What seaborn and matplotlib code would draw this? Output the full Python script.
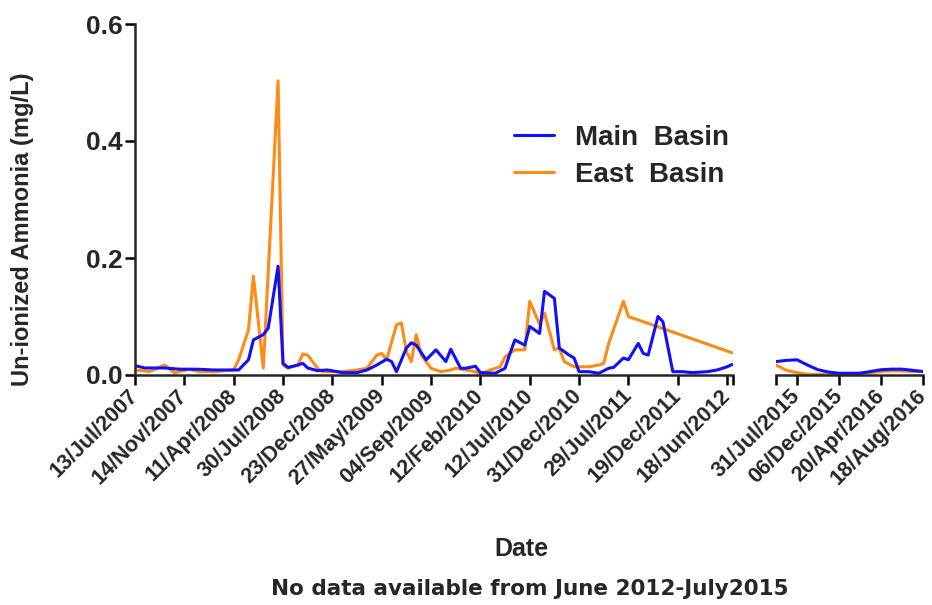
import matplotlib
matplotlib.use("Agg")
import matplotlib.pyplot as plt
import pandas as pd
import seaborn as sns

# Sample index (position along the sampling sequence) and un-ionized ammonia, 2007-2012
main_idx = [0, 2, 6, 9, 13, 16, 21, 23, 24, 26, 27, 29, 30, 31, 33, 34, 35, 37, 39, 41,
            42, 45, 47, 49, 51, 52, 53, 55, 56, 57, 59, 61, 63, 64, 66, 67, 69, 70, 73, 75,
            76, 77, 79, 80, 82, 83, 85, 86, 88, 89, 90, 92, 94, 96, 97, 99, 100, 102, 103, 104,
            106, 107, 109, 111, 113, 116, 118, 120, 121]
main_val = [0.016, 0.012, 0.012, 0.010, 0.0098, 0.0086, 0.0086, 0.026, 0.060, 0.069, 0.080, 0.186,
            0.020, 0.013, 0.017, 0.020, 0.012, 0.0074, 0.0086, 0.0057, 0.004, 0.004, 0.0086, 0.017,
            0.027, 0.023, 0.0057, 0.046, 0.055, 0.051, 0.026, 0.043, 0.023, 0.044, 0.0115, 0.0115,
            0.015, 0.004, 0.003, 0.0115, 0.037, 0.060, 0.051, 0.083, 0.071, 0.143, 0.131, 0.046,
            0.034, 0.029, 0.0057, 0.0057, 0.003, 0.0115, 0.013, 0.029, 0.026, 0.054, 0.037, 0.034,
            0.100, 0.091, 0.0057, 0.0057, 0.004, 0.0057, 0.0086, 0.014, 0.018]

east_idx = [0, 3, 6, 8, 11, 13, 16, 20, 21, 23, 24, 26, 29, 30, 31, 33, 34, 35, 37, 38,
            42, 45, 47, 49, 50, 51, 53, 54, 55, 56, 57, 58, 60, 62, 64, 65, 69, 70, 72, 74,
            75, 77, 79, 80, 82, 83, 85, 86, 87, 89, 92, 94, 95, 96, 99, 100, 121]
east_val = [0.0086, 0.006, 0.017, 0.004, 0.0098, 0.0057, 0.0057, 0.0086, 0.026, 0.077, 0.169,
            0.012, 0.503, 0.017, 0.0115, 0.017, 0.036, 0.034, 0.0115, 0.0057, 0.0057, 0.0086,
            0.0115, 0.034, 0.037, 0.026, 0.086, 0.089, 0.040, 0.023, 0.069, 0.034, 0.0115, 0.0057,
            0.0086, 0.0115, 0.0057, 0.0017, 0.0086, 0.014, 0.031, 0.043, 0.043, 0.126, 0.086,
            0.106, 0.043, 0.046, 0.023, 0.014, 0.014, 0.017, 0.020, 0.054, 0.126, 0.100, 0.038]

# Sampling resumed July 2015
main_idx2 = list(range(15))
main_val2 = [0.023, 0.025, 0.026, 0.017, 0.009, 0.005, 0.003, 0.003, 0.003, 0.006, 0.009,
             0.010, 0.010, 0.008, 0.006]
east_idx2 = list(range(15))
east_val2 = [0.017, 0.008, 0.004, 0.001, 0.001, 0.001, 0.001, 0.002, 0.003, 0.004, 0.006,
             0.007, 0.007, 0.006, 0.006]

ticks1 = [0, 10, 20, 30, 40, 50, 60, 70, 80, 90, 100, 110, 120]
labels1 = ["13/Jul/2007", "14/Nov/2007", "11/Apr/2008", "30/Jul/2008", "23/Dec/2008",
           "27/May/2009", "04/Sep/2009", "12/Feb/2010", "12/Jul/2010", "31/Dec/2010",
           "29/Jul/2011", "19/Dec/2011", "18/Jun/2012"]
ticks2 = [2, 6, 10, 14]
labels2 = ["31/Jul/2015", "06/Dec/2015", "20/Apr/2016", "18/Aug/2016"]
yticks = [0.0, 0.2, 0.4, 0.6]

sites = ["Main  Basin", "East  Basin"]
colors = {"Main  Basin": "#1010ff", "East  Basin": "#ff8a14"}


def long_frame(mi, mv, ei, ev):
    a = pd.DataFrame({"idx": mi, "value": mv, "site": sites[0]})
    b = pd.DataFrame({"idx": ei, "value": ev, "site": sites[1]})
    return pd.concat([b, a], ignore_index=True)


df1 = long_frame(main_idx, main_val, east_idx, east_val)
df2 = long_frame(main_idx2, main_val2, east_idx2, east_val2)

sns.set_style("ticks")
plt.rcParams["font.family"] = ["Liberation Sans", "DejaVu Sans"]
plt.rcParams["font.weight"] = "bold"

fig = plt.figure(figsize=(9.32, 6.05), dpi=100)
W, H = 932, 605
ax1 = fig.add_axes([135 / W, 1 - 375 / H, (733 - 135) / W, 351 / H])
ax2 = fig.add_axes([776 / W, 1 - 375 / H, (923 - 776) / W, 351 / H])

for ax, d in ((ax1, df1), (ax2, df2)):
    sns.lineplot(data=d, x="idx", y="value", hue="site", hue_order=sites[::-1],
                 palette=colors, estimator=None, sort=False, linewidth=2.2, ax=ax,
                 legend=False)
    ax.set_ylim(0, 0.6)
    ax.set_xlabel("")
    ax.set_ylabel("")
    for s in ("top", "right"):
        ax.spines[s].set_visible(False)
    ax.spines["bottom"].set_linewidth(1.8)
    ax.spines["left"].set_linewidth(1.8)
    ax.tick_params(axis="both", direction="out", length=7, width=1.8, color="black", pad=2)

ax1.set_xlim(0, 121.2)
ax1.set_xticks(ticks1 + [121.2])
ax1.set_xticklabels(labels1 + [""], rotation=45, ha="right", va="center",
                    rotation_mode="anchor", fontsize=15.5, fontweight="bold")
ax1.set_yticks(yticks)
ax1.set_yticklabels([f"{v:.1f}" for v in yticks], fontsize=19, fontweight="bold")

ax2.set_xlim(0, 14)
ax2.set_xticks([0] + ticks2)
ax2.set_xticklabels([""] + labels2, rotation=45, ha="right", va="center",
                    rotation_mode="anchor", fontsize=15.5, fontweight="bold")
ax2.spines["left"].set_visible(False)
ax2.set_yticks([])

for ax in (ax1, ax2):
    ax.tick_params(axis="x", pad=6)

handles = [plt.Line2D([], [], color=colors[s], lw=2.2) for s in sites]
fig.legend(handles, sites, loc="upper left", bbox_to_anchor=(514 / W, 1 - 125 / H),
           frameon=False, handlelength=1.45, handletextpad=0.75, labelspacing=0.38,
           borderpad=0, borderaxespad=0, prop={"weight": "bold", "size": 20})

fig.text(0.024, 1 - 229 / H, "Un-ionized Ammonia (mg/L)", rotation=90, ha="center",
         va="center", fontsize=17, fontweight="bold")
fig.text(0.559, 1 - 549 / H, "Date", ha="center", va="center", fontsize=18,
         fontweight="bold")
fig.text(0.568, 1 - 589 / H, "No data available from June 2012-July2015", ha="center",
         va="center", fontsize=15.5, fontweight="bold", family="DejaVu Sans")

fig.savefig("out.png", dpi=100)
